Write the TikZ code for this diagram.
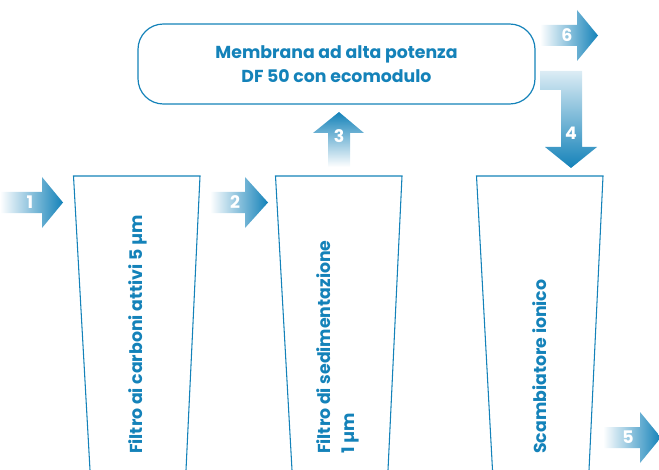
\documentclass[tikz,border=0pt]{standalone}
\usepackage{fontspec}
\setmainfont{Poppins}
\usepackage{tikz}
\definecolor{aquablue}{RGB}{20,130,185}

\begin{document}
\begin{tikzpicture}[x=0.75pt,y=0.75pt,yscale=-1,xscale=1,
    filterline/.style={draw=aquablue, line width=0.8pt},
    bluetext/.style={text=aquablue, font=\fontsize{13}{18}\selectfont\bfseries, inner sep=0.75pt},
    arrownum/.style={text=white, font=\fontsize{13}{16}\selectfont\bfseries, inner sep=0.75pt}]
    \useasboundingbox (0,0) rectangle (659,470);

    %Shape: Membrane box
    \node [draw=aquablue, line width=0.9pt, rounded corners=19pt, minimum width=297.75pt, minimum height=60pt, align=center] [bluetext] (membrana) at (336.5,64) {Membrana ad alta potenza\\DF 50 con ecomodulo};

    %Shape: Filters
    \draw [filterline] (90,470) -- (73.5,176) -- (200,176) -- (186,470) ;
    \draw [filterline] (292,470) -- (275.5,176) -- (402,176) -- (388,470) ;
    \draw [filterline] (492.5,470) -- (476.5,176) -- (603,176) -- (589,470) ;

    %Shape: Arrows right
    \shade [left color=white, right color=aquablue] (0,192) -- (42,192) -- (42,177) -- (63,202.5) -- (42,228) -- (42,213) -- (0,213) -- cycle ;
    \shade [left color=white, right color=aquablue] (210,192) -- (245,192) -- (245,177) -- (268,202.5) -- (245,228) -- (245,213) -- (210,213) -- cycle ;
    \shade [left color=white, right color=aquablue] (603,427) -- (640,427) -- (640,412) -- (661,437.5) -- (640,463) -- (640,448) -- (603,448) -- cycle ;
    \shade [left color=white, right color=aquablue] (540,25) -- (577,25) -- (577,10) -- (598,35.5) -- (577,61) -- (577,46) -- (540,46) -- cycle ;
    %Shape: Arrow up
    \shade [top color=aquablue, bottom color=white] (328,167) -- (328,133) -- (313,133) -- (339,112) -- (364,133) -- (350,133) -- (350,167) -- cycle ;
    %Shape: Arrow down
    \shade [top color=aquablue!15, bottom color=aquablue] (540,71) -- (582,71) -- (582,147) -- (597,147) -- (571,168) -- (545,147) -- (561,147) -- (561,90) -- (540,90) -- cycle ;

    % Text Node
    \node [arrownum] (n1) at (30,202.5) {1};
    \node [arrownum] (n2) at (235,202.5) {2};
    \node [arrownum] (n3) at (339,136) {3};
    \node [arrownum] (n4) at (571,133) {4};
    \node [arrownum] (n5) at (628,437.5) {5};
    \node [arrownum] (n6) at (567,35.5) {6};

    % Text Node
    \node [bluetext, rotate=90, anchor=west] (carboni) at (138,455) {Filtro ai carboni attivi 5 µm};
    \node [bluetext, rotate=90, anchor=west, align=left] (sedimentazione) at (338,455) {Filtro di sedimentazione\\1 µm};
    \node [bluetext, rotate=90, anchor=west] (scambiatore) at (540,455) {Scambiatore ionico};

\end{tikzpicture}
\end{document}
